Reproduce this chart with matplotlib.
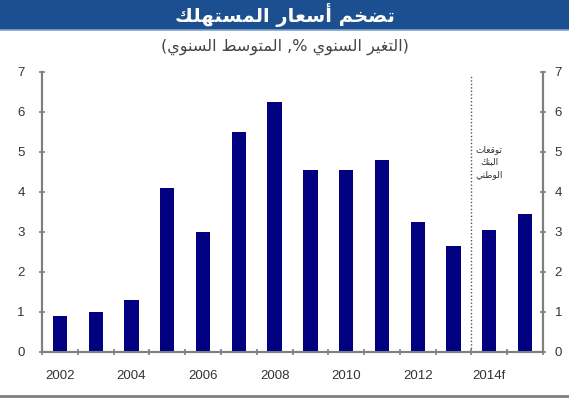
import matplotlib
matplotlib.use("Agg")
import matplotlib.pyplot as plt
from matplotlib.patches import Rectangle
from matplotlib.lines import Line2D
import numpy as np

# ---------------- data ----------------
years = ["2002", "2003", "2004", "2005", "2006", "2007", "2008",
         "2009", "2010", "2011", "2012", "2013", "2014f", "2015f"]
inflation = [0.9, 1.0, 1.3, 4.1, 3.0, 5.5, 6.25, 4.55, 4.55, 4.8, 3.25, 2.65, 3.05, 3.45]
xtick_labels = ["2002", "2004", "2006", "2008", "2010", "2012", "2014f"]
yticks = [0, 1, 2, 3, 4, 5, 6, 7]

title_text = "تضخم أسعار المستهلك"
subtitle_text = "(التغير السنوي %, المتوسط السنوي)"
note_lines = ["توقعات", "البنك", "الوطني"]

# ---------------- minimal Arabic shaping + RTL ordering ----------------
_dual = {'ب': 0xFE8F, 'ت': 0xFE95, 'ث': 0xFE99, 'ج': 0xFE9D, 'ح': 0xFEA1,
         'خ': 0xFEA5, 'س': 0xFEB1, 'ش': 0xFEB5, 'ص': 0xFEB9, 'ض': 0xFEBD,
         'ط': 0xFEC1, 'ظ': 0xFEC5, 'ع': 0xFEC9, 'غ': 0xFECD, 'ف': 0xFED1,
         'ق': 0xFED5, 'ك': 0xFED9, 'ل': 0xFEDD, 'م': 0xFEE1, 'ن': 0xFEE5,
         'ه': 0xFEE9, 'ي': 0xFEF1}
_right = {'ا': 0xFE8D, 'أ': 0xFE83, 'د': 0xFEA9, 'ذ': 0xFEAB, 'ر': 0xFEAD,
          'ز': 0xFEAF, 'و': 0xFEED, 'ى': 0xFEEF, 'ة': 0xFE93}
_mirror = {'(': ')', ')': '('}


def _is_ar(c):
    return c in _dual or c in _right


def ar(text):
    out = []
    n = len(text)
    for i, c in enumerate(text):
        if not _is_ar(c):
            out.append(_mirror.get(c, c))
            continue
        prev_joins = i > 0 and text[i - 1] in _dual
        next_exists = i < n - 1 and _is_ar(text[i + 1])
        if c in _dual:
            b = _dual[c]
            if prev_joins and next_exists:
                out.append(chr(b + 3))
            elif prev_joins:
                out.append(chr(b + 1))
            elif next_exists:
                out.append(chr(b + 2))
            else:
                out.append(chr(b))
        else:
            b = _right[c]
            out.append(chr(b + 1) if prev_joins else chr(b))
    return "".join(out[::-1])


# ---------------- figure ----------------
W, H = 569, 408
fig = plt.figure(figsize=(W / 100, H / 100), dpi=100)
fig.patch.set_facecolor("white")

# title bar
fig.patches.append(Rectangle((0, 1 - 30 / H), 1, 30 / H, transform=fig.transFigure,
                             facecolor="#1b4f8f", edgecolor="none", zorder=0))
fig.lines.append(Line2D([0, 1], [1 - 30 / H, 1 - 30 / H], transform=fig.transFigure,
                        color="#7fa3cf", linewidth=1.2))
fig.text(0.5, 1 - 15 / H, ar(title_text), ha="center", va="center",
         color="white", fontsize=14, fontweight="bold", family=["DejaVu Sans"])
fig.text(0.5, 1 - 47 / H, ar(subtitle_text), ha="center", va="center",
         color="#444444", fontsize=11.5, family=["DejaVu Sans"])

# bottom border
fig.lines.append(Line2D([0, 1], [12 / H, 12 / H], transform=fig.transFigure,
                        color="#808080", linewidth=2))

ax = fig.add_axes([42 / W, 56 / H, 501 / W, 280 / H])
x = np.arange(len(years))
ax.bar(x, inflation, width=0.4, color="#000080", zorder=3)

ax.set_xlim(-0.5, len(years) - 0.5)
ax.set_ylim(0, 7)

# x axis: labels at category centres, tick marks at boundaries
ax.set_xticks([years.index(l) for l in xtick_labels])
ax.set_xticklabels(xtick_labels)
ax.set_xticks(np.arange(-0.5, len(years)), minor=True)
ax.tick_params(axis="x", which="major", length=0, pad=13, labelsize=9.5, labelcolor="#333333")
ax.tick_params(axis="x", which="minor", length=5, direction="inout", color="#808080", width=1.2)

ax.set_yticks(yticks)
ax.tick_params(axis="y", which="major", length=5, direction="inout", color="#808080",
               width=1.2, pad=10, labelsize=9.5, labelcolor="#333333",
               left=True, right=False, labelleft=True, labelright=False)

ax2 = ax.twinx()
ax2.set_ylim(0, 7)
ax2.set_yticks(yticks)
ax2.tick_params(axis="y", which="major", length=5, direction="inout", color="#808080",
                width=1.2, pad=6, labelsize=9.5, labelcolor="#333333")

for a in (ax, ax2):
    for s in ["left", "right", "bottom"]:
        a.spines[s].set_color("#808080")
        a.spines[s].set_linewidth(1.5)
    a.spines["top"].set_visible(False)
    for lbl in a.get_xticklabels() + a.get_yticklabels():
        lbl.set_family(["Liberation Sans", "DejaVu Sans"])

# forecast separator
ax.axvline(11.5, ymin=0, ymax=0.99, color="#555555", linestyle=(0, (1, 1.5)), linewidth=1)
ax.text(12.0, 4.75, "\n".join(ar(l) for l in note_lines), ha="center", va="center",
        fontsize=6.5, color="#333333", linespacing=1.5, family=["DejaVu Sans"])

fig.savefig("out.png", dpi=100)
